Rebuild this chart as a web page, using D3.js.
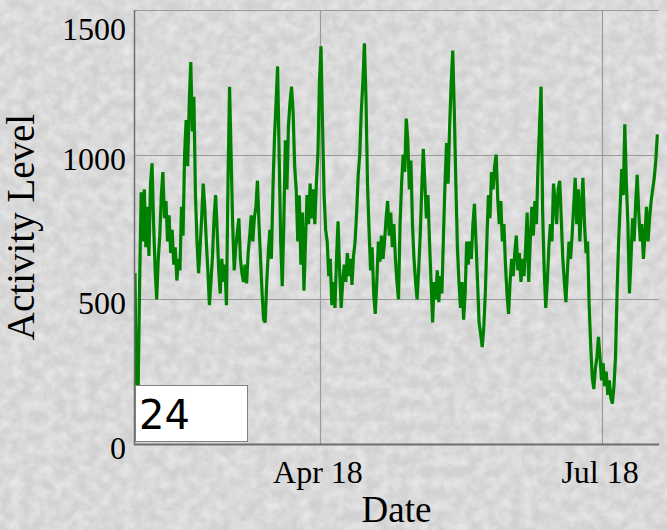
<!DOCTYPE html>
<html>
<head>
<meta charset="utf-8">
<script src="https://cdn.jsdelivr.net/npm/d3@7"></script>
<style>
  html, body { margin: 0; padding: 0; background: #d7d7d7; }
  svg { display: block; }
</style>
</head>
<body>
<svg id="chart" width="667" height="530"></svg>
<script>
// ---- Data ----
const startDate = new Date(2018, 0, 31, 8, 0);   // first sample
const stepHours = 12;                              // sample spacing
const activity = [
590,110,180,560,870,700,880,680,820,650,
900,970,760,600,500,640,720,860,940,780,
840,700,790,660,740,620,680,565,640,600,
820,720,1000,1120,960,1180,1320,1080,1200,860,
700,590,680,780,900,820,700,600,480,560,
650,780,860,740,600,520,640,560,620,480,
900,1235,1000,760,600,680,730,780,640,590,
560,620,555,660,720,790,700,780,820,910,
760,640,520,430,420,560,660,740,640,880,
1060,1180,1305,1000,700,545,760,1050,880,1100,
1180,1235,1150,960,880,700,860,620,800,530,
700,860,760,900,780,880,760,900,1000,1250,
1375,1100,860,740,700,580,640,480,560,470,
640,770,600,470,560,620,560,660,580,640,
550,650,700,800,930,1000,1150,1250,1385,1200,
900,740,600,680,520,450,560,700,630,720,
640,700,780,840,720,800,680,760,640,560,
500,760,900,1000,940,1125,1050,880,980,760,
640,560,500,600,720,880,1020,900,780,860,
700,560,420,560,500,600,490,580,520,720,
900,1040,900,1100,1250,1360,1150,900,680,560,
470,560,430,520,700,620,700,640,760,830,
700,560,420,380,335,400,520,700,860,780,
940,880,960,1000,850,760,840,700,760,620,
520,450,560,640,580,660,720,600,660,560,
640,580,680,800,560,700,820,720,840,760,
960,1100,1235,800,600,470,560,680,760,700,
900,840,760,880,910,780,640,560,490,600,
700,640,720,820,920,760,880,700,820,920,
760,660,700,480,340,230,190,260,300,370,
300,220,280,200,250,170,220,160,140,200,
300,520,700,820,950,860,1105,900,760,520,
640,780,700,830,930,800,700,760,640,720,
820,700,780,840,880,920,980,1070
];
const xDomain = [new Date(2018, 0, 31, 8, 0), new Date(2018, 6, 19, 1, 0)];
const yDomain = [0, 1500];
const xTickDates = [new Date(2018, 3, 1), new Date(2018, 6, 1)];
const yTickValues = [0, 500, 1000, 1500];
const xTitle = "Date";
const yTitle = "Activity Level";
const rollPeriod = "24";

// ---- Layout ----
const L = 135, R = 658, T = 10, B = 444;
const svg = d3.select("#chart");

// textured paper background
const defs = svg.append("defs");
const f = defs.append("filter").attr("id", "paper").attr("x", 0).attr("y", 0).attr("width", "100%").attr("height", "100%");
f.append("feTurbulence").attr("type", "fractalNoise").attr("baseFrequency", 0.09).attr("numOctaves", 3).attr("seed", 11);
f.append("feColorMatrix").attr("type", "matrix")
  .attr("values", "0 0 0 0 1  0 0 0 0 1  0 0 0 0 1  0.8 0 0 0 -0.22");
defs.append("clipPath").attr("id", "plotclip").append("rect")
  .attr("x", L).attr("y", T - 2).attr("width", R - L + 2).attr("height", B - T + 2);

svg.append("rect").attr("width", 667).attr("height", 530).attr("fill", "#d1d1d1");
svg.append("rect").attr("width", 667).attr("height", 530).attr("filter", "url(#paper)");

const x = d3.scaleTime().domain(xDomain).range([L, R]);
const y = d3.scaleLinear().domain(yDomain).range([B, T]);

const data = activity.map((v, i) => ({ date: d3.timeHour.offset(startDate, i * stepHours), value: v }));

// grid
const grid = svg.append("g").attr("stroke", "#9a9a9a").attr("stroke-width", 1.2);
grid.selectAll("line.h").data(yTickValues.filter(v => v > 0)).join("line")
  .attr("x1", L).attr("x2", R + 1)
  .attr("y1", d => Math.round(y(d)) + 0.5).attr("y2", d => Math.round(y(d)) + 0.5);
grid.selectAll("line.v").data(xTickDates).join("line")
  .attr("y1", T).attr("y2", B)
  .attr("x1", d => Math.round(x(d)) + 0.5).attr("x2", d => Math.round(x(d)) + 0.5);

// series
const line = d3.line().x(d => x(d.date)).y(d => y(d.value));
svg.append("path").datum(data)
  .attr("clip-path", "url(#plotclip)")
  .attr("fill", "none").attr("stroke", "#008000").attr("stroke-width", 3.2)
  .attr("stroke-linejoin", "miter").attr("stroke-miterlimit", 3).attr("d", line);

// axes lines
svg.append("line").attr("x1", L - 0.5).attr("x2", L - 0.5).attr("y1", T).attr("y2", B + 1)
  .attr("stroke", "#6e6e6e").attr("stroke-width", 1.5);
svg.append("line").attr("x1", L - 1).attr("x2", R + 1).attr("y1", B + 0.5).attr("y2", B + 0.5)
  .attr("stroke", "#6e6e6e").attr("stroke-width", 2);

// y tick labels
const serif = "'Liberation Serif', 'Times New Roman', serif";
svg.append("g").selectAll("text").data(yTickValues).join("text")
  .attr("x", 126)
  .attr("y", d => Math.max(y(d) + 15, 40))
  .attr("text-anchor", "end")
  .attr("font-family", serif).attr("font-size", 32).attr("fill", "#000")
  .text(d => d3.format("d")(d));

// x tick labels
const fmt = d3.timeFormat("%b %y");
svg.append("g").selectAll("text").data(xTickDates).join("text")
  .attr("x", d => x(d) - 2)
  .attr("y", 483)
  .attr("text-anchor", "middle")
  .attr("font-family", serif).attr("font-size", 32).attr("fill", "#000")
  .text(d => fmt(d));

// axis titles
svg.append("text").attr("x", (L + R) / 2).attr("y", 522)
  .attr("text-anchor", "middle").attr("font-family", serif).attr("font-size", 37)
  .text(xTitle);
svg.append("text")
  .attr("transform", `translate(34, ${(T + B) / 2}) rotate(-90)`)
  .attr("text-anchor", "middle").attr("font-family", serif).attr("font-size", 39)
  .text(yTitle);

// roll period box
svg.append("rect").attr("x", 135.5).attr("y", 385.5).attr("width", 112).attr("height", 56)
  .attr("fill", "#fff").attr("stroke", "#808080").attr("stroke-width", 1);
svg.append("text").attr("x", 139).attr("y", 429)
  .attr("font-family", "'DejaVu Sans', sans-serif").attr("font-size", 40).attr("fill", "#000")
  .text(rollPeriod);
</script>
</body>
</html>
